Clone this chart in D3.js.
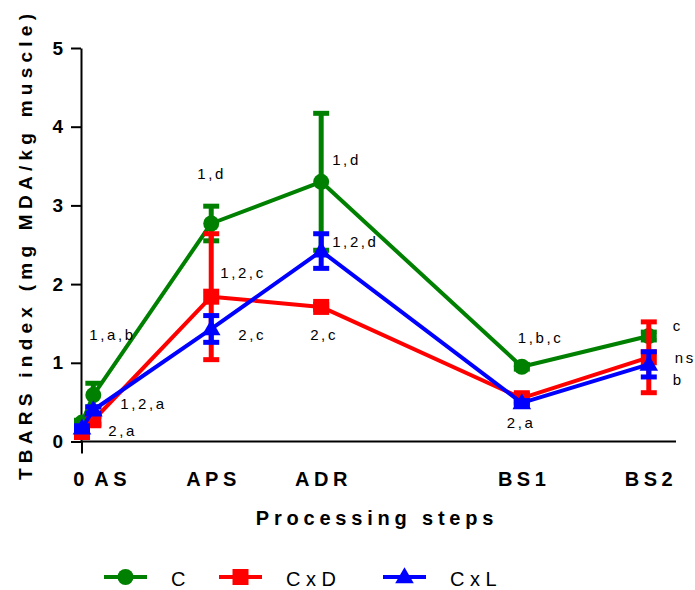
<!DOCTYPE html>
<html>
<head>
<meta charset="utf-8">
<script src="https://cdn.jsdelivr.net/npm/d3@7.9.0/dist/d3.min.js"></script>
<style>
  html, body { margin: 0; padding: 0; background: #fff; }
  svg { display: block; font-family: "Liberation Sans", Arial, sans-serif; }
</style>
</head>
<body>
<svg id="chart" width="695" height="590"></svg>
<script>
// ---------- data ----------
const steps = ['0', 'AS', 'APS', 'ADR', 'BS1', 'BS2'];
const stepPos = [0, 0.1, 1.14, 2.11, 3.88, 5.0];   // position of each step on the x axis

const seriesNames = ['C', 'CxD', 'CxL'];
const meanC   = [0.24, 0.59, 2.77, 3.30, 0.95, 1.34];
const errC    = [0.03, 0.15, 0.22, 0.87, 0.03, 0.05];
const meanCxD = [0.12, 0.27, 1.84, 1.71, 0.55, 1.07];
const errCxD  = [0.04, 0.05, 0.80, 0.03, 0.05, 0.45];
const meanCxL = [0.17, 0.40, 1.43, 2.42, 0.49, 0.98];
const errCxL  = [0.03, 0.04, 0.17, 0.22, 0.03, 0.16];

// significance letters per step
const lettersC   = ['', '1,a,b', '1,d', '1,d', '1,b,c', 'c'];
const lettersCxD = ['', '2,a', '1,2,c', '2,c', '', 'ns'];
const lettersCxL = ['', '1,2,a', '2,c', '1,2,d', '2,a', 'b'];

const yTicks = [0, 1, 2, 3, 4, 5];

// ---------- layout ----------
const colors = { C: '#008000', CxD: '#ff0000', CxL: '#0000ff' };
const font = '"Liberation Sans", Arial, sans-serif';

// label offsets (px) from the data point, [dx, dy] per step
const letterOffsets = {
  C:   [null, [-4, -55], [-14, -45], [11, -17], [-4, -24], [24, -5]],
  CxD: [null, [15, 16], [9, -19], [-11, 33], null, [26, 6]],
  CxL: [null, [27, -1], [27, 11], [11, -4], [-15, 25], [24, 21]]
};

const svg = d3.select('#chart');
const x = d3.scaleLinear().domain([0, 5.24]).range([82, 676]);
const y = d3.scaleLinear().domain([0, 5]).range([441.5, 48]);

const series = [
  { name: 'C',   mean: meanC,   err: errC,   letters: lettersC,   shape: 'circle' },
  { name: 'CxD', mean: meanCxD, err: errCxD, letters: lettersCxD, shape: 'square' },
  { name: 'CxL', mean: meanCxL, err: errCxL, letters: lettersCxL, shape: 'triangle' }
];

// ---------- axes ----------
const yAxis = svg.append('g')
  .attr('transform', 'translate(81,0)')
  .call(d3.axisLeft(y).tickValues(yTicks).tickFormat(d3.format('d')).tickSize(10).tickSizeOuter(0).tickPadding(8));
yAxis.select('.domain').attr('stroke-width', 2);
yAxis.selectAll('.tick line').attr('stroke-width', 2);
yAxis.selectAll('.tick text')
  .attr('font-family', font).attr('font-size', 19).attr('font-weight', 'bold').attr('fill', '#000');

const xAxis = svg.append('g')
  .attr('transform', 'translate(0,441.5)')
  .call(d3.axisBottom(x).tickValues([]).tickSizeOuter(0));
xAxis.select('.domain').attr('d', `M${x(0) - 1},0H${x.range()[1]}`).attr('stroke-width', 2);
xAxis.append('line')
  .attr('x1', x(0)).attr('x2', x(0)).attr('y1', 0).attr('y2', 12)
  .attr('stroke', '#000').attr('stroke-width', 2);

const xls = 4.5;
steps.forEach((s, i) => {
  const t = xAxis.append('text')
    .attr('y', 44)
    .attr('font-family', font).attr('font-size', 20).attr('font-weight', 'bold')
    .attr('letter-spacing', xls).attr('fill', '#000')
    .text(s);
  if (s === 'AS') t.attr('x', x(stepPos[i]) + 1).attr('text-anchor', 'start');
  else if (s === '0') t.attr('x', x(stepPos[i]) - 1).attr('text-anchor', 'middle');
  else t.attr('x', x(stepPos[i]) + xls / 2).attr('text-anchor', 'middle');
});

// axis titles
svg.append('text')
  .attr('x', 377).attr('y', 525)
  .attr('text-anchor', 'middle')
  .attr('font-family', font).attr('font-size', 20).attr('font-weight', 'bold')
  .attr('letter-spacing', 4.8)
  .text('Processing steps');

svg.append('text')
  .attr('transform', 'translate(32,480) rotate(-90)')
  .attr('font-family', font).attr('font-size', 19).attr('font-weight', 'bold')
  .attr('textLength', 466).attr('lengthAdjust', 'spacing')
  .text('TBARS index (mg MDA/kg muscle)');

// ---------- marks ----------
const symbolFor = {
  circle: d3.symbol().type(d3.symbolCircle).size(Math.PI * 8 * 8),
  square: d3.symbol().type(d3.symbolSquare).size(16 * 16),
  triangle: d3.symbol().type(d3.symbolTriangle).size(150)
};

const line = d3.line().x((d, i) => x(stepPos[i])).y(d => y(d));

series.forEach(s => {
  const c = colors[s.name];
  const g = svg.append('g');

  g.append('path')
    .attr('d', line(s.mean))
    .attr('fill', 'none').attr('stroke', c).attr('stroke-width', 4)
    .attr('stroke-linejoin', 'round');

  s.mean.forEach((m, i) => {
    const cx = x(stepPos[i]);
    const top = y(m + s.err[i]);
    const bot = y(m - s.err[i]);
    g.append('line')
      .attr('x1', cx).attr('x2', cx).attr('y1', top).attr('y2', bot)
      .attr('stroke', c).attr('stroke-width', 5);
    [top, bot].forEach(yy => {
      g.append('line')
        .attr('x1', cx - 8).attr('x2', cx + 8).attr('y1', yy).attr('y2', yy)
        .attr('stroke', c).attr('stroke-width', 5);
    });
    g.append('path')
      .attr('d', symbolFor[s.shape]())
      .attr('transform', `translate(${cx},${y(m) + (s.shape === 'triangle' ? 1 : 0)})`)
      .attr('fill', c);
  });

  s.letters.forEach((txt, i) => {
    const off = letterOffsets[s.name][i];
    if (!txt || !off) return;
    svg.append('text')
      .attr('x', x(stepPos[i]) + off[0])
      .attr('y', y(s.mean[i]) + off[1])
      .attr('font-family', font).attr('font-size', 15)
      .attr('letter-spacing', 2.6)
      .attr('fill', '#000')
      .text(txt);
  });
});

// ---------- legend ----------
const legendX = [104, 219, 383];
const legend = svg.append('g').attr('transform', 'translate(0,577)');
series.forEach((s, i) => {
  const c = colors[s.name];
  const lx = legendX[i];
  legend.append('line')
    .attr('x1', lx).attr('x2', lx + 43).attr('y1', 0).attr('y2', 0)
    .attr('stroke', c).attr('stroke-width', 4);
  legend.append('path')
    .attr('d', symbolFor[s.shape]())
    .attr('transform', `translate(${lx + 21.5},${s.shape === 'triangle' ? 1 : 0})`)
    .attr('fill', c);
  legend.append('text')
    .attr('x', lx + 67).attr('y', 9)
    .attr('font-family', font).attr('font-size', 20)
    .attr('letter-spacing', 5.5)
    .text(seriesNames[i]);
});
</script>
</body>
</html>
